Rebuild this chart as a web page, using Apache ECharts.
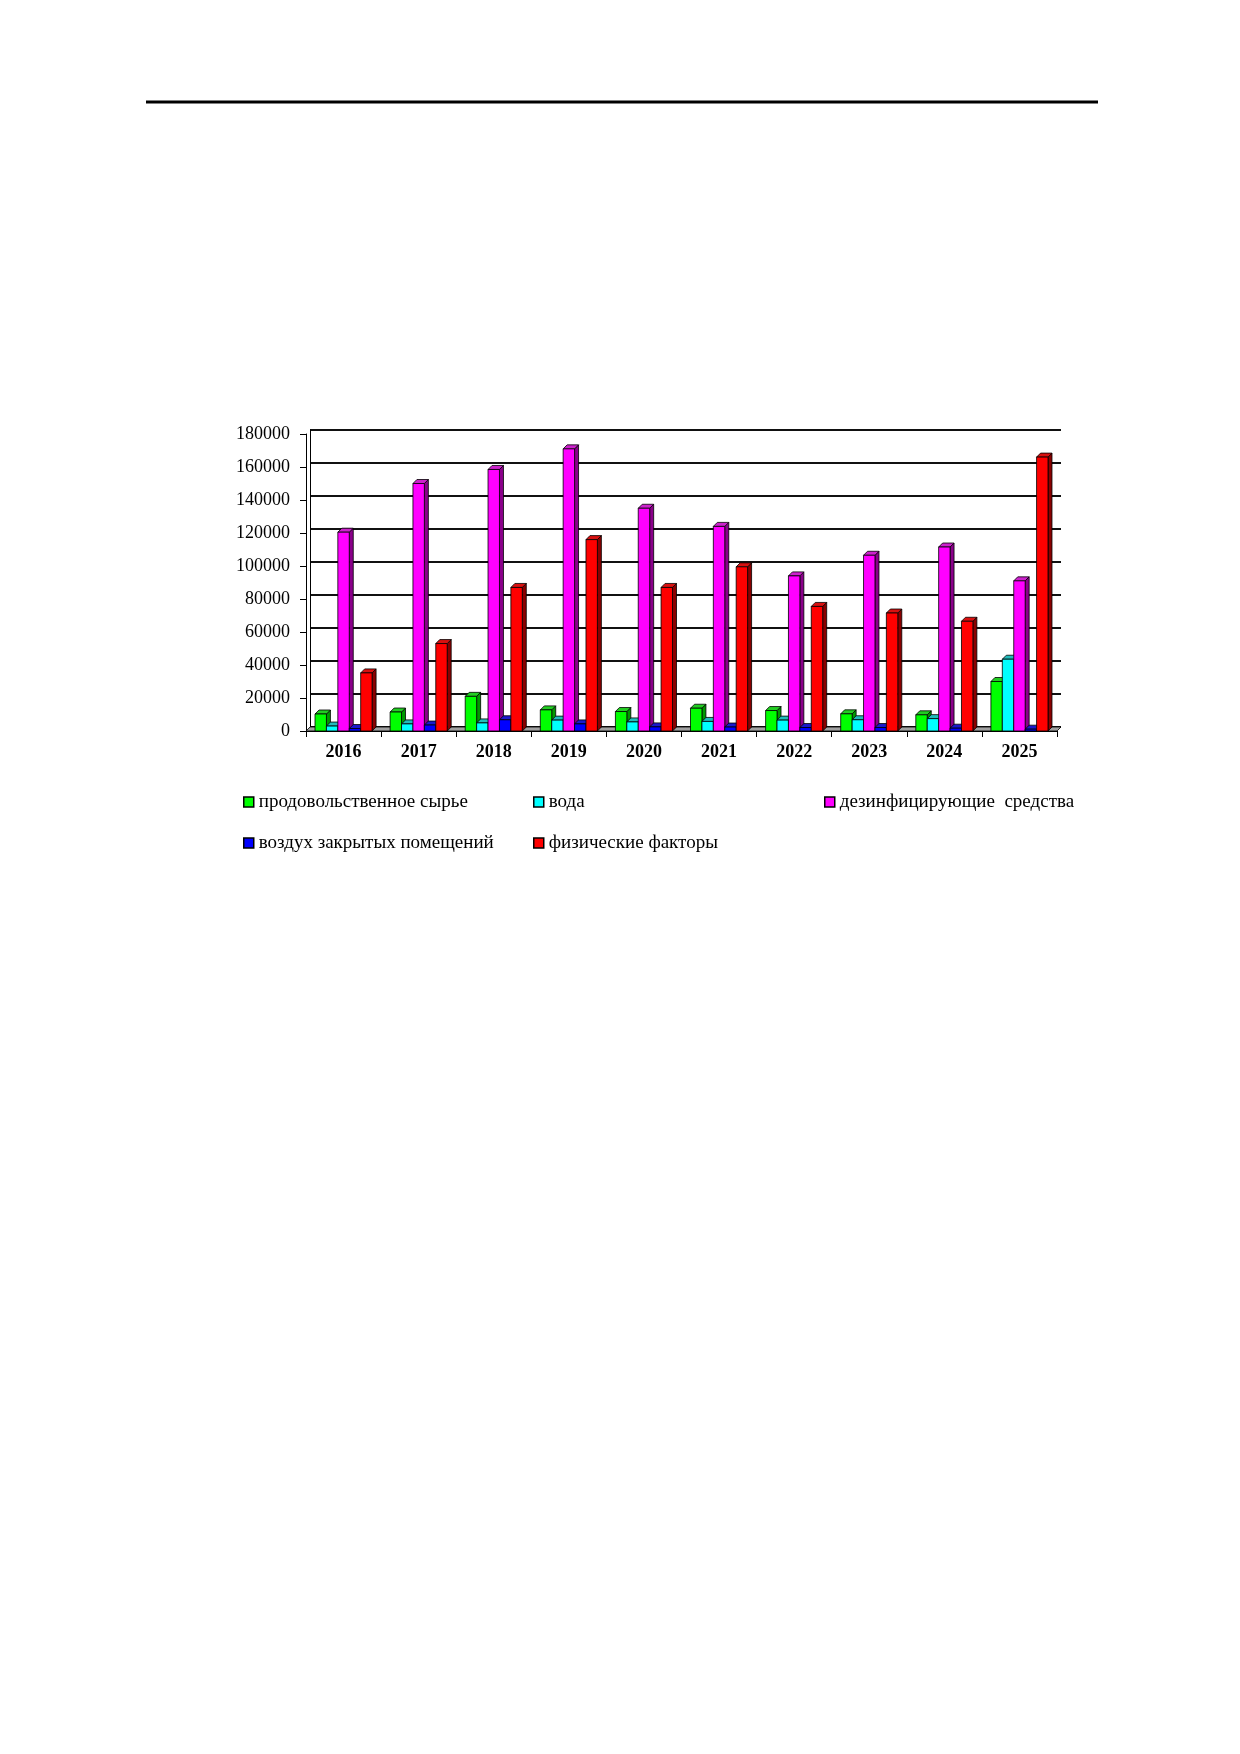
<!DOCTYPE html>
<html>
<head>
<meta charset="utf-8">
<title>Chart</title>
<script src="https://cdn.jsdelivr.net/npm/echarts@6/dist/echarts.min.js"></script>
<style>
  html, body { margin: 0; padding: 0; background: #fff; }
  #chart { width: 1240px; height: 1754px; }
</style>
</head>
<body>
<div id="chart"></div>
<script>
// data
var years = ['2016', '2017', '2018', '2019', '2020', '2021', '2022', '2023', '2024', '2025'];
var foodRaw = [10300, 11500, 21000, 12800, 11800, 13800, 12400, 10400, 9800, 30000];
var water = [3000, 4300, 4900, 6600, 5500, 5800, 6600, 6800, 7500, 43500];
var disinfectants = [120500, 150000, 158500, 171000, 135000, 124000, 94000, 106500, 111500, 91000];
var indoorAir = [1500, 3600, 6800, 4300, 2500, 2400, 2100, 2100, 1700, 1100];
var physical = [35200, 53000, 87000, 116000, 87000, 99500, 75500, 71500, 66500, 166000];
var yTicks = { min: 0, max: 180000, interval: 20000 };

var names = ['продовольственное сырье', 'вода', 'дезинфицирующие  средства',
             'воздух закрытых помещений', 'физические факторы'];
var values = [foodRaw, water, disinfectants, indoorAir, physical];
var front = ['#00ff00', '#00ffff', '#ff00ff', '#0000ff', '#ff0000'];
var topc = ['#22cc22', '#22bbbb', '#cc22cc', '#1a1acc', '#d81010'];
var side = ['#009900', '#009090', '#8a008a', '#000088', '#8a0000'];

var FONT = "'Liberation Serif', 'Times New Roman', serif";
var DEPTH = 4;

function makeBar(slot) {
  return function (params, api) {
    var cat = api.value(0);
    var base = api.coord([cat, 0]);
    var top = api.coord([cat, api.value(1)]);
    var catW = api.size([1, 0])[0];
    var bw = catW * 0.152;
    var x = base[0] - bw * 2.5 + slot * bw;
    var y0 = base[1], y1 = top[1], d = DEPTH;
    var st = { stroke: '#000', lineWidth: 0.8 };
    return {
      type: 'group',
      children: [
        { type: 'polygon', shape: { points: [[x + bw, y1], [x + bw + d, y1 - d], [x + bw + d, y0 - d], [x + bw, y0]] },
          style: Object.assign({ fill: side[slot] }, st) },
        { type: 'polygon', shape: { points: [[x, y1], [x + d, y1 - d], [x + bw + d, y1 - d], [x + bw, y1]] },
          style: Object.assign({ fill: topc[slot] }, st) },
        { type: 'rect', shape: { x: x, y: y1, width: bw, height: y0 - y1 },
          style: Object.assign({ fill: front[slot] }, st) }
      ]
    };
  };
}

function renderFloor(params, api) {
  var a = api.coord([0, 0]);
  var catW = api.size([1, 0])[0];
  var x0 = a[0] - catW / 2, x1 = x0 + catW * years.length, y = a[1], d = DEPTH;
  return {
    type: 'polygon',
    shape: { points: [[x0, y], [x1, y], [x1 + d, y - d], [x0 + d, y - d]] },
    style: { fill: '#a0a0a0', stroke: '#000', lineWidth: 0.8 }
  };
}

var series = [{
  type: 'custom',
  name: 'floor',
  xAxisIndex: 0, yAxisIndex: 0,
  renderItem: renderFloor,
  data: [[0, 0]],
  silent: true
}];
names.forEach(function (n, i) {
  series.push({
    type: 'custom',
    name: n,
    xAxisIndex: 0, yAxisIndex: 0,
    renderItem: makeBar(i),
    itemStyle: { color: front[i] },
    encode: { x: 0, y: 1 },
    data: values[i].map(function (v, k) { return [k, v]; })
  });
});

var legendPos = [[243, 791], [533, 791], [824, 791], [243, 832], [533, 832]];
var legends = names.map(function (n, i) {
  return {
    left: legendPos[i][0], top: legendPos[i][1], padding: 0,
    icon: 'rect', itemWidth: 10, itemHeight: 10,
    textStyle: { fontFamily: FONT, fontSize: 19, color: '#000', lineHeight: 22 },
    data: [{ name: n, itemStyle: { color: front[i], borderColor: '#000', borderWidth: 1.5 } }]
  };
});

var chart = echarts.init(document.getElementById('chart'), null, { renderer: 'canvas' });
chart.setOption({
  backgroundColor: '#fff',
  animation: false,
  graphic: [{
    type: 'line', shape: { x1: 146, y1: 102, x2: 1098, y2: 102 },
    style: { stroke: '#000', lineWidth: 3 }
  }],
  legend: legends,
  grid: [
    { left: 306, top: 434, right: 183, bottom: 1023 },   // front axes
    { left: 310, top: 430, right: 179, bottom: 1027 }    // back wall
  ],
  xAxis: [{
    gridIndex: 0, type: 'category', data: years, boundaryGap: true,
    axisLine: { lineStyle: { color: '#000', width: 1 } },
    axisTick: { show: true, length: 6, lineStyle: { color: '#000' } },
    axisLabel: { fontFamily: FONT, fontSize: 18, fontWeight: 'bold', color: '#000', margin: 12 },
    splitLine: { show: false }
  }, {
    gridIndex: 1, type: 'category', data: years, show: false
  }],
  yAxis: [{
    gridIndex: 0, type: 'value', min: yTicks.min, max: yTicks.max, interval: yTicks.interval,
    axisLine: { show: true, lineStyle: { color: '#000', width: 1 } },
    axisTick: { show: true, length: 6, lineStyle: { color: '#000' } },
    axisLabel: { fontFamily: FONT, fontSize: 18, color: '#000', margin: 16,
                 formatter: function (v) { return String(v); } },
    splitLine: { show: false }
  }, {
    gridIndex: 1, type: 'value', min: yTicks.min, max: yTicks.max, interval: yTicks.interval,
    axisLine: { show: true, lineStyle: { color: '#000', width: 1 } },
    axisTick: { show: false },
    axisLabel: { show: false },
    splitLine: { show: true, lineStyle: { color: '#111', width: 1.8 } }
  }],
  series: series
});
</script>
</body>
</html>
